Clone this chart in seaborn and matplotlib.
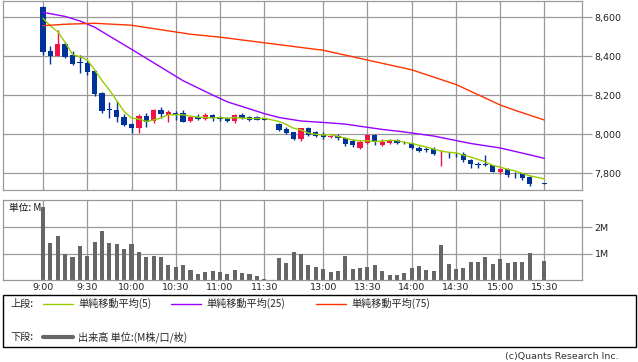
import seaborn as sns
import matplotlib.pyplot as plt
import pandas as pd
from matplotlib.patches import Rectangle
from matplotlib.lines import Line2D

W, H = 638, 362

# 5-minute slots (9:00 = 0, lunch break squeezed, 15:30 close = 68)
slots = [0, 1, 2, 3, 4, 5, 6, 7, 8, 9, 10, 11, 12, 13, 14, 15, 16, 17, 18, 19,
         20, 21, 22, 23, 24, 25, 26, 27, 28, 29, 30,
         32, 33, 34, 35, 36, 37, 38, 39, 40, 41, 42, 43, 44, 45, 46, 47, 48, 49,
         50, 51, 52, 53, 54, 55, 56, 57, 58, 59, 60, 61, 62, 63, 64, 65, 66, 68]
opens = [8653, 8426, 8402, 8463, 8404, 8365, 8365, 8325, 8211, 8124, 8124, 8089, 8052,
         8034, 8092, 8070, 8124, 8100, 8110, 8109, 8068, 8090, 8077, 8099, 8088, 8085,
         8070, 8099, 8088, 8087, 8082,
         8053, 8027, 8010, 7974, 8032, 8010, 7996, 7988, 7993, 7981, 7966, 7928, 7957,
         7996, 7947, 7954, 7971, 7958, 7954, 7930, 7920, 7923, 7902, 7904, 7900, 7900,
         7870, 7848, 7845, 7841, 7807, 7821, 7802, 7800, 7783, 7746]
highs = [8656, 8453, 8533, 8470, 8426, 8406, 8380, 8329, 8218, 8165, 8170, 8104, 8059,
         8102, 8110, 8131, 8138, 8124, 8121, 8124, 8095, 8102, 8110, 8104, 8095, 8090,
         8105, 8110, 8095, 8092, 8085,
         8056, 8039, 8013, 8034, 8036, 8017, 8013, 7998, 8001, 7988, 7974, 7969, 8001,
         8001, 7976, 7976, 7976, 7964, 7957, 7940, 7937, 7933, 7920, 7910, 7910, 7907,
         7875, 7858, 7894, 7845, 7826, 7826, 7807, 7804, 7787, 7750]
lows = [8406, 8358, 8402, 8390, 8354, 8312, 8303, 8197, 8110, 8085, 8064, 8042, 8005,
        8008, 8039, 8058, 8082, 8064, 8073, 8064, 8061, 8073, 8073, 8070, 8070, 8064,
        8060, 8080, 8068, 8073, 8073,
        8017, 8002, 7969, 7966, 7991, 7988, 7978, 7980, 7972, 7942, 7934, 7923, 7952,
        7947, 7940, 7949, 7950, 7950, 7923, 7907, 7908, 7895, 7838, 7880, 7886, 7858,
        7828, 7826, 7840, 7806, 7797, 7783, 7775, 7768, 7737, 7744]
closes = [8422, 8402, 8463, 8395, 8361, 8365, 8320, 8206, 8121, 8124, 8087, 8048, 8034,
          8095, 8064, 8124, 8102, 8113, 8097, 8064, 8090, 8078, 8100, 8082, 8078, 8070,
          8100, 8085, 8073, 8075, 8075,
          8021, 8008, 7974, 8031, 7996, 7993, 7986, 7990, 7980, 7952, 7945, 7962, 7996,
          7962, 7959, 7966, 7955, 7955, 7928, 7916, 7920, 7900, 7904, 7902, 7898, 7868,
          7846, 7841, 7843, 7809, 7822, 7792, 7800, 7778, 7746, 7746]
# volume in M shares
volume = [2.75, 1.41, 1.67, 0.99, 0.88, 1.29, 0.92, 1.45, 1.86, 1.41, 1.37, 1.18, 1.37,
          1.07, 0.88, 0.92, 0.88, 0.58, 0.50, 0.58, 0.39, 0.24, 0.31, 0.35, 0.31, 0.24,
          0.39, 0.28, 0.24, 0.16, 0.05,
          0.84, 0.65, 1.07, 0.99, 0.57, 0.50, 0.42, 0.30, 0.34, 0.91, 0.42, 0.45, 0.49,
          0.57, 0.34, 0.19, 0.19, 0.26, 0.45, 0.53, 0.38, 0.34, 1.32, 0.60, 0.42, 0.45,
          0.68, 0.68, 0.87, 0.60, 0.79, 0.64, 0.68, 0.68, 1.02, 0.72]
ma5 = [8593, 8555, 8525, 8470, 8409, 8397, 8381, 8329, 8275, 8227, 8172, 8117, 8083,
       8078, 8066, 8073, 8084, 8100, 8100, 8100, 8093, 8088, 8086, 8083, 8086, 8082,
       8086, 8083, 8081, 8081, 8082,
       8066, 8050, 8031, 8022, 8006, 8000, 7996, 7999, 7989, 7980, 7971, 7966, 7967,
       7963, 7965, 7969, 7968, 7959, 7953, 7944, 7935, 7924, 7914, 7908, 7905, 7894,
       7884, 7871, 7859, 7841, 7832, 7821, 7813, 7800, 7788, 7772]
ma25_slots = [0, 3, 5, 7, 10, 12, 16, 19, 23, 25, 28, 30, 32, 35, 37, 39, 41, 43, 46,
              49, 53, 58, 62, 66, 68]
ma25 = [8624, 8603, 8580, 8548, 8480, 8435, 8343, 8274, 8201, 8166, 8130, 8106, 8086,
        8068, 8063, 8058, 8052, 8041, 8025, 8012, 7991, 7953, 7930, 7895, 7877]
ma75_slots = [0, 3, 7, 12, 16, 20, 24, 38, 50, 56, 62, 64, 68]
ma75 = [8556, 8563, 8568, 8558, 8535, 8512, 8497, 8430, 8330, 8255, 8150, 8123, 8073]

tick_slots = [0, 6, 12, 18, 24, 30, 38, 44, 50, 56, 62, 68]
tick_labels = ["9:00", "9:30", "10:00", "10:30", "11:00", "11:30",
               "13:00", "13:30", "14:00", "14:30", "15:00", "15:30"]
price_ticks = [7800, 8000, 8200, 8400, 8600]
vol_ticks = [1, 2]
vol_labels = ["1M", "2M"]

sns.set_theme(style="white")
plt.rcParams['font.family'] = ['DejaVu Sans', 'Noto Sans CJK JP']
JP = ['Noto Sans CJK JP', 'DejaVu Sans']

GRID = '#999999'
UP = '#f0134a'
DOWN = '#003399'

fig = plt.figure(figsize=(W / 100, H / 100), dpi=100)
ax1 = fig.add_axes([3 / W, 1 - 190 / H, 579 / W, 189 / H])
ax2 = fig.add_axes([3 / W, 1 - 280 / H, 579 / W, 80 / H])

candles = pd.DataFrame({'slot': slots, 'open': opens, 'high': highs,
                        'low': lows, 'close': closes, 'volume': volume, 'ma5': ma5})
candles['up'] = candles['close'] > candles['open']
candles['color'] = candles['up'].map({True: UP, False: DOWN})
candles['bottom'] = candles[['open', 'close']].min(axis=1)
candles['body'] = (candles['close'] - candles['open']).abs().clip(lower=3)

for ax in (ax1, ax2):
    ax.set_xlim(-5.43, 73.1)
    ax.set_xticks(tick_slots)
    ax.grid(True, color=GRID, lw=0.9)
    ax.set_axisbelow(True)
    for sp in ax.spines.values():
        sp.set_color(GRID)
        sp.set_linewidth(0.9)
    ax.yaxis.tick_right()
    ax.tick_params(axis='y', length=7, width=0.9, color=GRID, labelsize=6.8,
                   labelcolor='#222222', pad=2)
    ax.set_xlabel('')
    ax.set_ylabel('')

# upper panel: candles and moving averages
ax1.vlines(candles['slot'], candles['low'], candles['high'], colors=candles['color'], lw=1)
ax1.bar(candles['slot'], candles['body'], bottom=candles['bottom'], width=0.72,
        color=candles['color'], linewidth=0)
sns.lineplot(data=candles, x='slot', y='ma5', ax=ax1, color='#99cc00', lw=1, legend=False)
sns.lineplot(x=ma25_slots, y=ma25, ax=ax1, color='#9900ff', lw=1, legend=False)
sns.lineplot(x=ma75_slots, y=ma75, ax=ax1, color='#ff3300', lw=1, legend=False)
ax1.set_ylim(7715, 8682)
ax1.set_yticks(price_ticks)
ax1.set_yticklabels([f"{v:,}" for v in price_ticks])
ax1.tick_params(axis='x', length=0, labelbottom=False)
ax1.set_xlabel('')
ax1.set_ylabel('')

# lower panel: volume
ax2.bar(candles['slot'], candles['volume'], width=0.55, color='#666666', linewidth=0)
ax2.set_ylim(0, 3.02)
ax2.set_yticks(vol_ticks)
ax2.set_yticklabels(vol_labels)
ax2.set_xticklabels(tick_labels)
ax2.tick_params(axis='x', length=0, labelsize=6.8, labelcolor='#222222', pad=2)
ax2.text(0.01, 0.9, "単位: M", transform=ax2.transAxes, ha='left', va='center',
         fontsize=7, family=JP, color='#111111')


def fx(x):
    return x / W


def fy(y):
    return 1 - y / H


# legend box
fig.add_artist(Rectangle((fx(3), fy(347)), fx(633), 52 / H, transform=fig.transFigure,
                         fill=False, ec='black', lw=1))
row1, row2 = 303.5, 337
fig.text(fx(10), fy(row1), "上段:", ha='left', va='center', fontsize=7.3, family=JP)
fig.text(fx(10), fy(row2), "下段:", ha='left', va='center', fontsize=7.3, family=JP)
for x0, col, lab in [(43, '#99cc00', "単純移動平均(5)"),
                     (171, '#9900ff', "単純移動平均(25)"),
                     (316, '#ff3300', "単純移動平均(75)")]:
    fig.add_artist(Line2D([fx(x0), fx(x0 + 30)], [fy(row1), fy(row1)],
                          transform=fig.transFigure, color=col, lw=1))
    fig.text(fx(x0 + 35), fy(row1), lab, ha='left', va='center', fontsize=7.3, family=JP)
fig.add_artist(Line2D([fx(43), fx(73)], [fy(row2), fy(row2)],
                      transform=fig.transFigure, color='#666666', lw=3))
fig.text(fx(78), fy(row2), "出来高 単位:(M株/口/枚)", ha='left', va='center',
         fontsize=7.3, family=JP)

fig.text(fx(619), fy(356), "(c)Quants Research Inc.", ha='right', va='center',
         fontsize=6.8, color='#333333')

fig.savefig("out.png", dpi=100)
